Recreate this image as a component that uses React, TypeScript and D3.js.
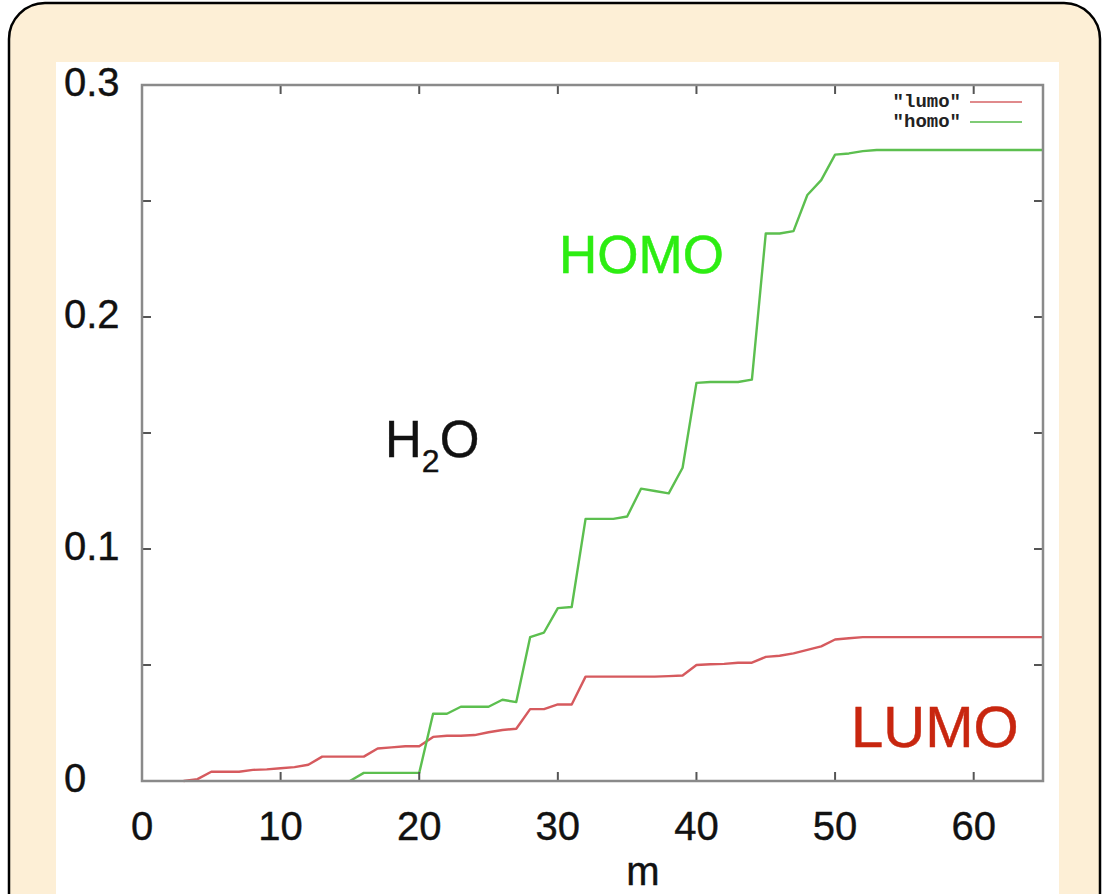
import React from "react";
import * as d3 from "d3";

// Cumulative weight vs. m for the two frontier orbitals of H2O
const lumoM = [3, 4, 5, 6, 7, 8, 9, 10, 11, 12, 13, 14, 15, 16, 17, 18, 19, 20, 21, 22, 23, 24, 25, 26, 27, 28, 29, 30, 31, 32, 33, 34, 35, 36, 37, 38, 39, 40, 41, 42, 43, 44, 45, 46, 47, 48, 49, 50, 51, 52, 53, 54, 55, 56, 57, 58, 59, 60, 61, 62, 63, 64, 65];
const lumoValues = [0, 0.0008, 0.004, 0.004, 0.004, 0.0048, 0.005, 0.0055, 0.006, 0.007, 0.0105, 0.0105, 0.0105, 0.0105, 0.014, 0.0145, 0.015, 0.015, 0.019, 0.0195, 0.0195, 0.0198, 0.021, 0.022, 0.0225, 0.031, 0.031, 0.033, 0.033, 0.045, 0.045, 0.045, 0.045, 0.045, 0.045, 0.0452, 0.0455, 0.05, 0.0503, 0.0505, 0.051, 0.051, 0.0535, 0.054, 0.055, 0.0565, 0.058, 0.061, 0.0615, 0.062, 0.062, 0.062, 0.062, 0.062, 0.062, 0.062, 0.062, 0.062, 0.062, 0.062, 0.062, 0.062, 0.062];

const homoM = [15, 16, 17, 18, 19, 20, 21, 22, 23, 24, 25, 26, 27, 28, 29, 30, 31, 32, 33, 34, 35, 36, 37, 38, 39, 40, 41, 42, 43, 44, 45, 46, 47, 48, 49, 50, 51, 52, 53, 54, 55, 56, 57, 58, 59, 60, 61, 62, 63, 64, 65];
const homoValues = [0, 0.0035, 0.0035, 0.0035, 0.0035, 0.0035, 0.029, 0.029, 0.032, 0.032, 0.032, 0.035, 0.034, 0.062, 0.064, 0.0745, 0.075, 0.113, 0.113, 0.113, 0.114, 0.126, 0.125, 0.124, 0.135, 0.1716, 0.172, 0.172, 0.172, 0.173, 0.236, 0.236, 0.237, 0.2526, 0.259, 0.27, 0.2705, 0.2715, 0.272, 0.272, 0.272, 0.272, 0.272, 0.272, 0.272, 0.272, 0.272, 0.272, 0.272, 0.272, 0.272];

const xTicks = [0, 10, 20, 30, 40, 50, 60];
const yTicks = [0, 0.05, 0.1, 0.15, 0.2, 0.25, 0.3];
const yTickLabels = ["0", "", "0.1", "", "0.2", "", "0.3"];

const legendItems = [
  { label: '"lumo"', color: "#e08a8c" },
  { label: '"homo"', color: "#7fcb75" },
];

const W = 1107;
const H = 894;
const left = 142;
const right = 1043;
const top = 85;
const bottom = 781;

export default function App() {
  const x = d3.scaleLinear().domain([0, 65]).range([left, right]);
  const y = d3.scaleLinear().domain([0, 0.3]).range([bottom, top]);

  const line = d3
    .line<[number, number]>()
    .x((d) => x(d[0]))
    .y((d) => y(d[1]));

  const lumoPath = line(lumoM.map((m, i) => [m, lumoValues[i]]) as [number, number][]) || "";
  const homoPath = line(homoM.map((m, i) => [m, homoValues[i]]) as [number, number][]) || "";

  const tickLen = 9;
  const font = "'Liberation Sans', Arial, Helvetica, sans-serif";

  return (
    <svg
      width={W}
      height={H}
      style={{ position: "absolute", left: 0, top: 0 }}
      xmlns="http://www.w3.org/2000/svg"
    >
      <rect x={0} y={0} width={W} height={H} fill="#ffffff" />
      {/* slide frame */}
      <rect x={9} y={3} width={1091} height={1000} rx={36} ry={36} fill="#fdefd6" stroke="#000" strokeWidth={2.5} />
      {/* white chart panel */}
      <rect x={56} y={62} width={1003} height={840} fill="#ffffff" />

      {/* curves */}
      <path d={lumoPath} fill="none" stroke="#d65a5e" strokeWidth={2.4} strokeLinejoin="round" />
      <path d={homoPath} fill="none" stroke="#5cbf4f" strokeWidth={2.4} strokeLinejoin="round" />

      {/* ticks, mirrored on all sides */}
      <g stroke="#555" strokeWidth={2}>
        {xTicks.map((t) => (
          <g key={"xt" + t}>
            <line x1={x(t)} x2={x(t)} y1={bottom} y2={bottom - tickLen} />
            <line x1={x(t)} x2={x(t)} y1={top} y2={top + tickLen} />
          </g>
        ))}
        {yTicks.map((t) => (
          <g key={"yt" + t}>
            <line x1={left} x2={left + tickLen} y1={y(t)} y2={y(t)} />
            <line x1={right} x2={right - tickLen} y1={y(t)} y2={y(t)} />
          </g>
        ))}
      </g>

      {/* axis box */}
      <rect x={left} y={top} width={right - left} height={bottom - top} fill="none" stroke="#8a8a8a" strokeWidth={2.5} />

      {/* tick labels */}
      <g fontFamily={font} fontSize={40} fill="#111" stroke="#111" strokeWidth={0.4}>
        {xTicks.map((t) => (
          <text key={"xl" + t} x={x(t)} y={840} textAnchor="middle">
            {t}
          </text>
        ))}
        {yTicks.map((t, i) =>
          yTickLabels[i] ? (
            <text key={"yl" + t} x={64} y={y(t) - 3} dominantBaseline="central">
              {yTickLabels[i]}
            </text>
          ) : null
        )}
        <text x={643} y={885} textAnchor="middle">
          m
        </text>
      </g>

      {/* legend */}
      <g fontFamily="'Liberation Mono', 'Courier New', monospace" fontWeight="bold" fontSize={19} fill="#222">
        {legendItems.map((it, i) => (
          <g key={it.label}>
            <text x={961} y={102 + i * 20} textAnchor="end" dominantBaseline="central">
              {it.label}
            </text>
            <line x1={970} x2={1022} y1={102 + i * 20} y2={102 + i * 20} stroke={it.color} strokeWidth={2} />
          </g>
        ))}
      </g>

      {/* annotations */}
      <text x={559} y={273} fontFamily={font} fontSize={53} fill="#2ded12" stroke="#2ded12" strokeWidth={0.5}>
        HOMO
      </text>
      <text x={851} y={747} fontFamily={font} fontSize={58} fill="#c8260f" stroke="#c8260f" strokeWidth={0.5}>
        LUMO
      </text>
      <text x={385} y={457} fontFamily={font} fontSize={51} fill="#111" stroke="#111" strokeWidth={0.4}>
        H
        <tspan fontSize={32} dy={15}>2</tspan>
        <tspan dy={-15}>O</tspan>
      </text>
    </svg>
  );
}
